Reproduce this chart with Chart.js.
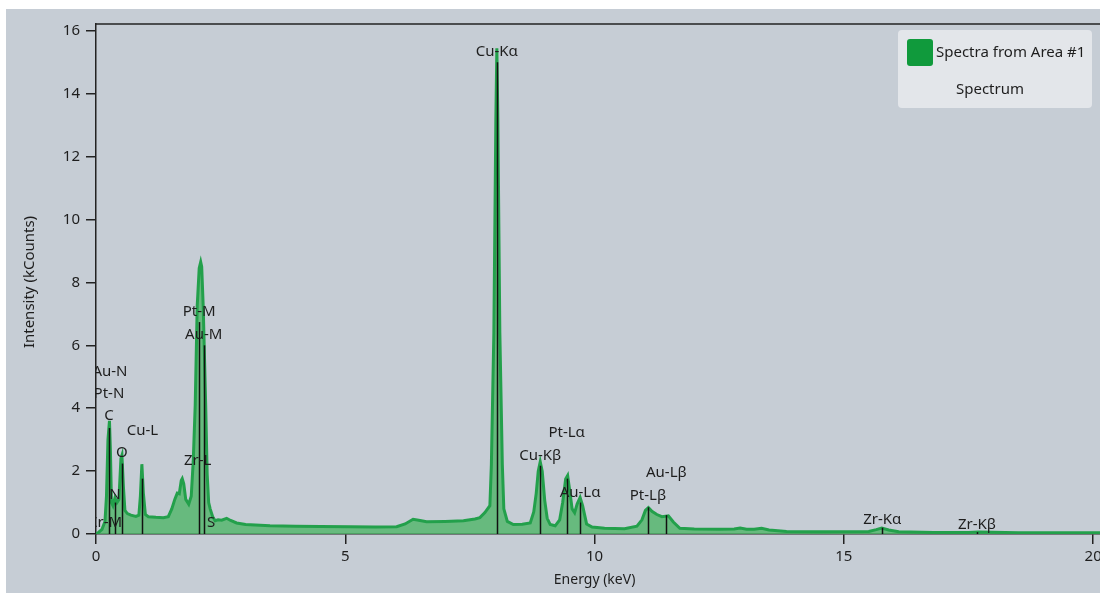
<!DOCTYPE html>
<html><head><meta charset="utf-8">
<script src="https://cdn.jsdelivr.net/npm/chart.js@4.4.0/dist/chart.umd.min.js"></script>
<style>
html,body{margin:0;padding:0;background:#fff;overflow:hidden;width:1100px;height:593px;}
#wrap{position:absolute;left:6px;top:9px;width:1140px;height:584px;background:#c6cdd5;}
canvas{display:block;}
</style></head><body>
<div id="wrap"><canvas id="c" width="1140" height="584"></canvas></div>
<script>
// Spectrum (energy keV, intensity kCounts)
const energies = [0.00,0.05,0.12,0.18,0.21,0.24,0.27,0.29,0.31,0.34,0.38,0.42,0.46,0.50,0.52,0.55,0.58,0.63,0.70,0.80,0.86,0.89,0.92,0.95,0.99,1.05,1.20,1.35,1.45,1.52,1.58,1.63,1.67,1.71,1.73,1.76,1.80,1.86,1.91,1.95,1.99,2.03,2.07,2.10,2.12,2.15,2.20,2.23,2.26,2.29,2.34,2.39,2.45,2.52,2.62,2.70,2.82,3.00,3.49,4.00,4.50,5.10,5.60,6.03,6.20,6.36,6.50,6.63,7.00,7.37,7.60,7.70,7.80,7.90,7.93,7.98,8.02,8.04,8.06,8.10,8.15,8.18,8.25,8.37,8.55,8.71,8.78,8.83,8.87,8.91,8.95,9.00,9.05,9.11,9.21,9.30,9.36,9.42,9.46,9.50,9.55,9.60,9.65,9.71,9.76,9.84,9.95,10.2,10.6,10.85,10.95,11.02,11.08,11.15,11.25,11.35,11.48,11.58,11.71,12.0,12.5,12.8,12.92,13.05,13.2,13.35,13.5,13.85,14.5,15.5,15.65,15.76,15.9,16.1,16.8,17.5,17.7,18.5,19.5,20.5,21.0];
const intensities = [0.00,0.05,0.15,0.40,1.20,3.00,3.60,2.60,1.00,0.90,1.15,1.00,1.10,2.40,2.50,1.50,0.75,0.65,0.60,0.56,0.60,1.20,2.22,1.30,0.62,0.55,0.53,0.52,0.55,0.80,1.10,1.30,1.28,1.70,1.76,1.60,1.10,0.95,1.20,2.30,4.10,7.25,8.45,8.65,8.50,7.25,4.10,1.90,1.00,0.80,0.55,0.42,0.45,0.44,0.50,0.43,0.35,0.30,0.26,0.25,0.24,0.23,0.22,0.23,0.32,0.47,0.43,0.39,0.40,0.42,0.48,0.52,0.68,0.90,2.20,6.40,13.2,15.45,13.2,6.40,2.20,0.80,0.40,0.30,0.31,0.35,0.70,1.30,2.00,2.30,2.00,1.07,0.50,0.30,0.26,0.45,1.00,1.75,1.86,1.40,0.80,0.68,0.95,1.16,0.90,0.32,0.22,0.18,0.17,0.25,0.45,0.75,0.84,0.72,0.62,0.55,0.58,0.38,0.18,0.16,0.15,0.16,0.19,0.15,0.15,0.18,0.13,0.08,0.07,0.08,0.14,0.19,0.13,0.07,0.05,0.05,0.06,0.04,0.04,0.04,0.04];

// Peak identification markers
const peakNames   = ['Zr-M','Au-N','Pt-N','C','N','O','Cu-L','Zr-L','Pt-M','Au-M','S','Cu-K\u03b1','Cu-K\u03b2','Pt-L\u03b1','Au-L\u03b1','Pt-L\u03b2','Au-L\u03b2','Zr-K\u03b1','Zr-K\u03b2'];
const peakEnergies= [0.19,0.28,0.26,0.26,0.38,0.52,0.93,2.04,2.07,2.16,2.31,8.04,8.91,9.44,9.71,11.07,11.44,15.77,17.67];
const peakLineTops= [0.00,0.00,0.00,3.37,1.00,2.24,1.76,0.00,6.74,6.00,0.00,15.0,2.17,1.76,1.00,0.85,0.60,0.20,0.06];
const peakLabelLevels=[0.35,5.17,4.47,3.75,1.26,2.58,3.28,2.33,7.06,6.33,0.35,15.34,2.49,3.21,1.32,1.23,1.95,0.44,0.31];

const xTickValues = [0,5,10,15,20];
const yTickValues = [0,2,4,6,8,10,12,14,16];
const xTitle = 'Energy (keV)';
const yTitle = 'Intensity (kCounts)';
const legendLabels = ['Spectra from Area #1','Spectrum'];

const FONT = '"Noto Sans", "Open Sans", sans-serif';
const TXT = '#1e1e1e';

const overlay = {
  id:'overlay',
  afterDatasetsDraw(chart){
    const {ctx, chartArea:a, scales:{x,y}} = chart;
    ctx.save();
    ctx.strokeStyle = '#222'; ctx.lineWidth = 1.5;
    ctx.beginPath(); ctx.moveTo(a.left, a.top); ctx.lineTo(a.right, a.top); ctx.stroke();
    ctx.beginPath(); ctx.rect(a.left, a.top-20, a.right-a.left, a.bottom-a.top+20); ctx.clip();
    ctx.strokeStyle = '#111'; ctx.lineWidth = 1.5;
    peakEnergies.forEach((e,i)=>{
      if(peakLineTops[i] <= 0) return;
      const px = Math.round(x.getPixelForValue(e))+0.5;
      ctx.beginPath(); ctx.moveTo(px, y.getPixelForValue(0)); ctx.lineTo(px, y.getPixelForValue(peakLineTops[i])); ctx.stroke();
    });
    ctx.fillStyle = TXT; ctx.font = '15px ' + FONT; ctx.textAlign='center'; ctx.textBaseline='middle';
    peakNames.forEach((n,i)=>{
      ctx.fillText(n, x.getPixelForValue(peakEnergies[i]), y.getPixelForValue(peakLabelLevels[i]));
    });
    ctx.restore();
  },
  afterDraw(chart){
    const {ctx, chartArea:a, scales:{x,y}} = chart;
    ctx.save();
    ctx.fillStyle = TXT;
    ctx.textAlign='center'; ctx.textBaseline='middle';
    ctx.font = '14px ' + FONT;
    ctx.fillText(xTitle, x.getPixelForValue(10), 571);
    ctx.font = '15px ' + FONT;
    ctx.translate(24, (a.top+a.bottom)/2+3);
    ctx.rotate(-Math.PI/2);
    ctx.fillText(yTitle, 0, 0);
    ctx.restore();
    // legend
    ctx.save();
    const lx=892, ly=21, lw=194, lh=78;
    ctx.fillStyle='#e3e6ea';
    ctx.beginPath(); ctx.roundRect(lx,ly,lw,lh,4); ctx.fill();
    ctx.fillStyle='#109a3c';
    ctx.beginPath(); ctx.roundRect(lx+9,ly+9,26,27,3); ctx.fill();
    ctx.fillStyle=TXT; ctx.font='15px '+FONT; ctx.textBaseline='middle';
    ctx.textAlign='left'; ctx.fillText(legendLabels[0], lx+38, ly+23);
    ctx.textAlign='center'; ctx.fillText(legendLabels[1], lx+92, ly+60);
    ctx.restore();
  }
};

new Chart(document.getElementById('c'), {
  type:'line',
  data:{ datasets:[{
    label: legendLabels[0],
    data: energies.map((e,i)=>({x:e, y:intensities[i]})),
    borderColor:'#23a04b', borderWidth:3,
    backgroundColor:'rgba(86,182,110,0.85)',
    fill:'origin', pointRadius:0, tension:0
  }]},
  options:{
    responsive:false, animation:false, maintainAspectRatio:false,
    layout:{padding:{top:10,right:3,left:0,bottom:0}},
    plugins:{legend:{display:false}, tooltip:{enabled:false}},
    scales:{
      x:{ type:'linear', min:0, max:21,
        afterFit(s){ s.height = 59; },
        afterBuildTicks(s){ s.ticks = xTickValues.map(v=>({value:v})); },
        grid:{display:true, drawOnChartArea:false, drawTicks:true, tickLength:10, color:'#222', lineWidth:1.5},
        border:{display:true, color:'#222', width:1.5},
        ticks:{font:{size:15, family:FONT}, color:TXT, padding:4, maxRotation:0}
      },
      y:{ type:'linear', min:0, max:16.22,
        afterFit(s){ s.width = 90; },
        afterBuildTicks(s){ s.ticks = yTickValues.map(v=>({value:v})); },
        grid:{display:true, drawOnChartArea:false, drawTicks:true, tickLength:10, color:'#222', lineWidth:1.5},
        border:{display:true, color:'#222', width:1.5},
        ticks:{font:{size:15, family:FONT}, color:TXT, padding:6}
      }
    }
  },
  plugins:[overlay]
});
</script>
</body></html>
